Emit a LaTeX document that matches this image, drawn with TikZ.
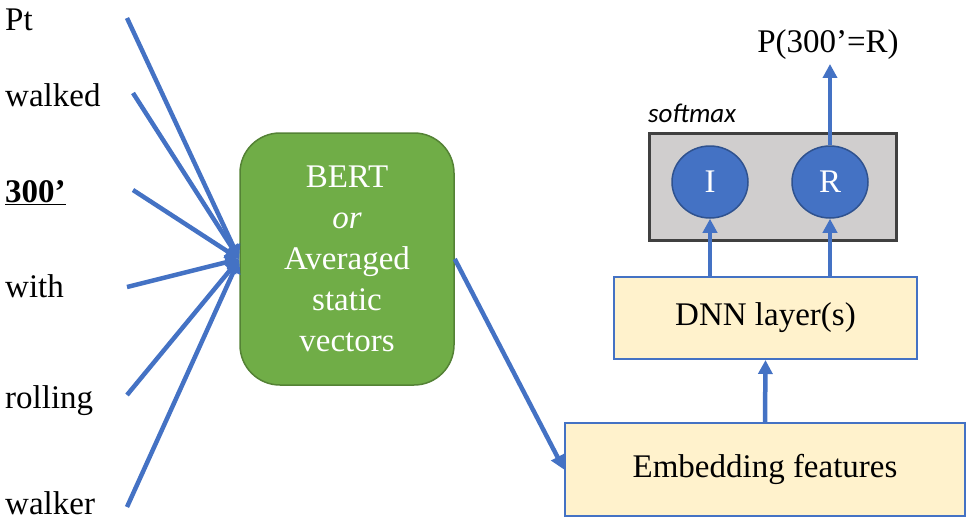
\documentclass[tikz,border=0pt]{standalone}
\usepackage{fontspec}
\setmainfont{Liberation Serif}
\newfontfamily\calib{Carlito}
\usetikzlibrary{arrows.meta,shapes.geometric}
\definecolor{arrowblue}{HTML}{4472C4}
\definecolor{bertgreen}{HTML}{70AD47}
\definecolor{bertedge}{HTML}{548235}
\definecolor{layerfill}{HTML}{FFF2CC}
\definecolor{softfill}{HTML}{D0CECE}
\definecolor{softedge}{HTML}{404040}
\definecolor{unitedge}{HTML}{2F528F}

\begin{document}
\begin{tikzpicture}[x=1pt,y=-1pt,
    bigfont/.style={font=\fontsize{33}{41}\selectfont},
    word/.style={bigfont,anchor=base west,inner sep=0pt},
    arrowline/.style={draw=arrowblue,line width=4.5pt,-{Triangle[length=14pt,width=14pt]}},
    layerbox/.style={draw=arrowblue,line width=2pt,fill=layerfill,bigfont,inner sep=0pt},
    unit/.style={ellipse,draw=unitedge,line width=1.5pt,fill=arrowblue,text=white,bigfont,
      minimum width=76pt,minimum height=72pt,inner sep=0pt}]
    \useasboundingbox (0,0) rectangle (967,523);
    \node[word] (w1) at (5,30) {Pt};
    \node[word] (w2) at (5,106) {walked};
    \node[word] (w3) at (5,202) {\underline{\textbf{300’}}};
    \node[word] (w4) at (5,297) {with};
    \node[word] (w5) at (5,408) {rolling};
    \node[word] (w6) at (5,514) {walker};
    \coordinate (s1) at (127,18);
    \coordinate (s2) at (133,93);
    \coordinate (s3) at (133,190);
    \coordinate (s4) at (127,287);
    \coordinate (s5) at (127,395);
    \coordinate (s6) at (127,507);
    \node[draw=bertedge,line width=1.5pt,fill=bertgreen,rounded corners=40pt,text=white,bigfont,
      align=center,minimum width=214pt,minimum height=252pt,inner sep=0pt] (bert) at (347,259)
      {BERT\\\textit{or}\\Averaged\\static\\vectors};
    \foreach \s in {s1,s2,s3,s4,s5,s6}
      \draw[arrowline] (\s) -- (bert.west);
    \node[layerbox,minimum width=400pt,minimum height=93pt] (emb) at (765,469.5) {Embedding features};
    \node[layerbox,minimum width=303pt,minimum height=82pt] (dnn) at (765.5,318) {DNN layer(s)};
    \node[draw=softedge,line width=3pt,fill=softfill,minimum width=247pt,minimum height=107pt,
      inner sep=0pt] (soft) at (772.5,186.5) {};
    \node[font=\calib\itshape\fontsize{27}{30}\selectfont,anchor=base west,inner sep=0pt] (softlbl)
      at (648,122) {softmax};
    \node[unit] (ci) at (710,182) {I};
    \node[unit] (cr) at (830,182) {R};
    \node[bigfont,inner sep=0pt,outer sep=4pt] (prob) at (828,45) {P(300’=R)};
    \draw[arrowline] (bert.east) -- (emb.west);
    \draw[arrowline] (emb.north) -- (dnn.south);
    \draw[arrowline] (dnn.north -| ci.south) -- (ci.south);
    \draw[arrowline] (dnn.north -| cr.south) -- (cr.south);
    \draw[arrowline] (cr.north) -- (cr.north |- prob.south);
\end{tikzpicture}
\end{document}
